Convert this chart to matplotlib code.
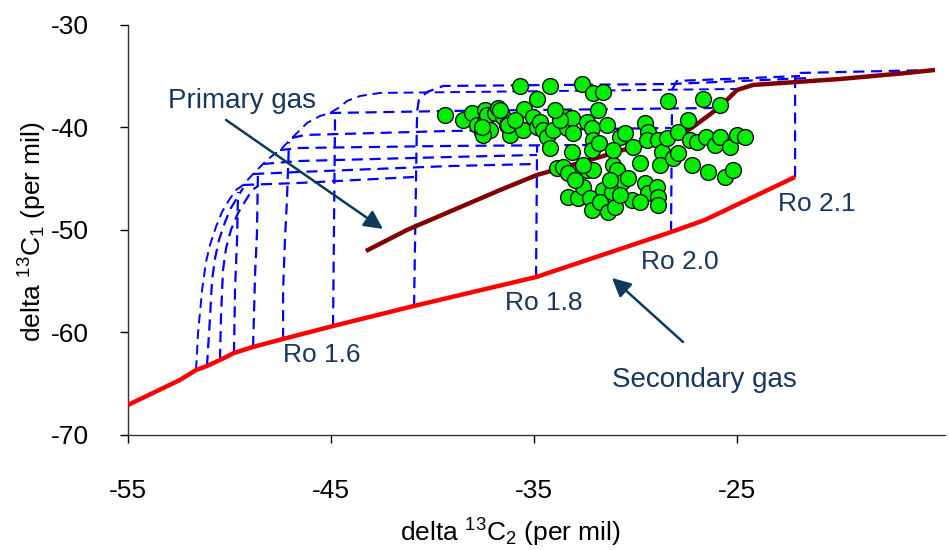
import matplotlib
matplotlib.use("Agg")
import matplotlib.pyplot as plt

plt.rcParams['font.family'] = ['Liberation Sans', 'DejaVu Sans']
plt.rcParams['mathtext.default'] = 'regular'
plt.rcParams['axes.unicode_minus'] = False

# ---------------- data ----------------
# secondary gas line (red)
sec_x = [-55.0, -52.44, -51.65, -51.11, -50.47, -49.78, -48.84, -47.36, -44.90, -40.91, -34.90, -28.25, -26.58, -22.14]
sec_y = [-67.07, -64.63, -63.66, -63.27, -62.68, -62.00, -61.41, -60.63, -59.37, -57.41, -54.59, -50.20, -49.02, -44.83]

# primary gas line (brown)
pri_x = [-43.28, -41.26, -36.67, -34.85, -31.75, -30.12, -28.15, -27.17, -25.84, -25.00, -24.21, -22.04, -19.93, -16.63, -15.25]
pri_y = [-52.05, -50.00, -46.10, -44.63, -42.88, -41.90, -41.22, -39.95, -38.00, -36.34, -35.85, -35.56, -35.27, -34.68, -34.39]

# mixing curves (blue dashed)
env_x = [-51.65, -51.55, -51.35, -51.16, -50.96, -50.67, -50.37, -50.02, -49.68, -49.33, -48.84, -48.35, -47.91,
         -47.51, -46.92, -46.18, -45.54, -45.05, -44.56, -44.21, -43.57, -42.59, -24.85]
env_y = [-63.66, -60.05, -55.85, -53.12, -51.46, -49.71, -48.24, -47.07, -46.10, -45.61, -44.54, -43.56, -42.78,
         -42.20, -41.02, -39.56, -38.88, -38.59, -38.00, -37.41, -36.93, -36.63, -36.24]

mix_curves = [
    # horizontals branching off the envelope
    ([-49.33, -46.53, -40.91], [-45.61, -45.41, -44.83]),
    ([-48.84, -46.53, -39.14, -34.85], [-44.54, -44.34, -43.76, -43.56]),
    ([-48.35, -46.53, -39.14, -34.85], [-43.56, -43.27, -42.88, -42.68]),
    ([-47.51, -46.53, -39.14, -32.39], [-42.20, -42.00, -41.80, -41.71]),
    ([-46.92, -46.28, -39.14, -28.25], [-41.02, -40.73, -40.34, -40.05]),
    ([-45.05, -39.14, -26.23], [-38.59, -38.39, -38.10]),
    # curved rises
    ([-51.11, -50.96, -50.86, -50.71, -50.52, -50.22, -49.93, -49.33],
     [-63.27, -58.49, -54.88, -52.73, -50.98, -49.22, -47.85, -45.90]),
    ([-50.47, -50.42, -50.32, -50.17, -49.93, -49.58, -49.19, -48.89, -48.60],
     [-62.68, -58.49, -53.90, -51.76, -50.00, -48.34, -47.07, -46.10, -45.71]),
    # verticals from the secondary gas line
    ([-49.78, -49.73, -49.63, -49.58], [-62.00, -55.85, -50.98, -46.29]),
    ([-48.84, -48.74, -48.65, -48.60], [-61.41, -54.20, -50.49, -44.34]),
    ([-47.36, -47.36, -47.27, -47.17, -47.07], [-60.63, -55.85, -50.98, -47.07, -41.41]),
    ([-44.90, -44.80], [-59.37, -38.59]),
    ([-40.91, -40.76, -40.67, -40.27, -39.48, -28.25, -21.40], [-57.41, -38.39, -37.32, -36.54, -35.95, -35.76, -35.17]),
    ([-34.90, -34.85], [-54.59, -41.80]),
    ([-28.25, -28.20, -27.96, -21.90], [-50.20, -36.34, -35.46, -34.98]),
    ([-22.14, -22.14, -21.90, -15.25], [-44.83, -34.98, -34.68, -34.39]),
]

# measured samples (green dots)
dot_x = [-39.38, -38.50, -38.05, -37.81, -37.41, -37.41, -37.32, -36.92, -36.77, -36.53, -36.33, -37.56, -37.17,
         -37.51, -36.18, -35.69, -35.54, -35.49, -34.85, -35.05, -34.85, -34.70, -34.56, -34.36, -34.21, -34.21,
         -34.06, -33.47, -33.37, -33.13, -33.08, -33.13, -32.64, -32.39, -32.14, -32.09, -31.60, -31.85, -32.09,
         -32.14, -31.80, -31.40, -33.87, -33.57, -33.33, -32.39, -32.09, -31.11, -30.91, -30.67, -30.37, -33.33,
         -32.83, -32.59, -32.24, -32.14, -31.60, -31.75, -31.35, -31.01, -31.16, -30.76, -30.52, -30.12, -29.78,
         -29.53, -29.38, -29.43, -29.53, -29.38, -28.94, -28.89, -28.89, -30.17, -29.78, -28.89, -28.69, -28.79,
         -28.45, -28.40, -27.91, -28.15, -27.91, -27.41, -27.32, -27.22, -26.97, -26.67, -26.53, -26.43, -26.08,
         -25.84, -25.84, -25.34, -25.00, -24.61, -25.59, -25.20, -36.67, -36.28, -37.56, -32.98, -31.26, -30.76,
         -32.59, -31.11, -33.72, -33.97, -35.94]
dot_y = [-38.78, -39.27, -38.59, -39.76, -38.29, -39.46, -38.78, -38.59, -38.10, -38.98, -39.76, -40.44, -40.24,
         -40.73, -40.73, -35.95, -40.24, -38.20, -37.22, -38.98, -39.95, -39.46, -40.24, -40.93, -35.95, -42.00,
         -40.24, -38.98, -40.05, -39.07, -40.54, -42.39, -35.76, -39.46, -40.05, -36.63, -36.54, -38.29, -41.22,
         -42.20, -41.51, -39.76, -43.95, -43.85, -44.44, -44.15, -44.15, -43.66, -44.15, -45.32, -44.93, -46.78,
         -46.88, -45.80, -46.88, -48.05, -46.10, -47.27, -48.24, -47.76, -46.29, -40.93, -40.54, -41.90, -43.46,
         -39.56, -40.44, -41.22, -45.41, -46.39, -45.80, -46.78, -47.56, -47.07, -47.27, -41.22, -42.39, -43.66,
         -41.02, -37.41, -40.44, -42.98, -42.49, -39.27, -41.22, -43.66, -41.41, -37.22, -40.93, -44.34, -41.71,
         -40.93, -37.80, -41.90, -40.73, -40.93, -44.83, -44.15, -38.29, -39.76, -39.95, -45.12, -45.12, -46.59,
         -43.66, -42.20, -39.27, -38.29, -39.27]

x_ticks = [-55, -45, -35, -25]
y_ticks = [-70, -60, -50, -40, -30]
ro_labels = ["Ro 1.6", "Ro 1.8", "Ro 2.0", "Ro 2.1"]
ro_label_x = [-47.36, -36.43, -29.73, -22.98]
ro_label_y = [-62.2, -57.12, -53.12, -47.46]

# ---------------- drawing ----------------
fig = plt.figure(figsize=(9.49, 5.5), dpi=100)
ax = fig.add_axes([0.1349, 0.2091, 0.861, 0.7455])

blue = '#0000FF'
dash = (0, (5, 3))
ax.plot(env_x, env_y, color=blue, lw=1.4, linestyle=dash, zorder=2)
for cx, cy in mix_curves:
    ax.plot(cx, cy, color=blue, lw=1.6, linestyle=dash, zorder=2)

ax.plot(sec_x, sec_y, color='#FF0000', lw=3.2, solid_capstyle='butt', zorder=3)
ax.plot(pri_x, pri_y, color='#800000', lw=3.2, solid_capstyle='butt', zorder=3)

ax.scatter(dot_x, dot_y, s=130, c='#00EE00', edgecolors='#111111', linewidths=1.0, zorder=4)

txt_color = '#17375E'
arrow_color = '#0E3A5C'
for lab, lx, ly in zip(ro_labels, ro_label_x, ro_label_y):
    ax.text(lx, ly, lab, fontsize=19, color=txt_color, ha='left', va='center', zorder=5)

ax.text(-53.03, -37.41, 'Primary gas', fontsize=20, color=txt_color, ha='left', va='center', zorder=5)
ax.annotate('', xy=(-42.44, -49.90), xytext=(-50.17, -39.27),
            arrowprops=dict(arrowstyle='-|>', color=arrow_color, lw=1.8, mutation_scale=28,
                            shrinkA=0, shrinkB=0), zorder=5)
ax.text(-31.16, -64.63, 'Secondary gas', fontsize=20, color=txt_color, ha='left', va='center', zorder=5)
ax.annotate('', xy=(-31.16, -54.68), xytext=(-27.66, -60.93),
            arrowprops=dict(arrowstyle='-|>', color=arrow_color, lw=1.8, mutation_scale=28,
                            shrinkA=0, shrinkB=0), zorder=5)

ax.set_xlim(-55, -14.75)
ax.set_ylim(-70, -30)
ax.set_xticks(x_ticks)
ax.set_yticks(y_ticks)
ax.tick_params(axis='both', direction='out', length=6, width=1, labelsize=19, colors='black')
ax.tick_params(axis='x', pad=26)
ax.tick_params(axis='y', pad=22)
for s in ['top', 'right']:
    ax.spines[s].set_visible(False)
for s in ['left', 'bottom']:
    ax.spines[s].set_linewidth(1.0)
    ax.spines[s].set_color('#333333')

ax.set_xlabel('delta $^{13}$C$_2$ (per mil)', fontsize=19)
ax.set_ylabel('delta $^{13}$C$_1$ (per mil)', fontsize=19)
ax.xaxis.set_label_coords(0.4676, -0.2)
ax.yaxis.set_label_coords(-0.097, 0.495)

fig.savefig('out.png', dpi=100)
